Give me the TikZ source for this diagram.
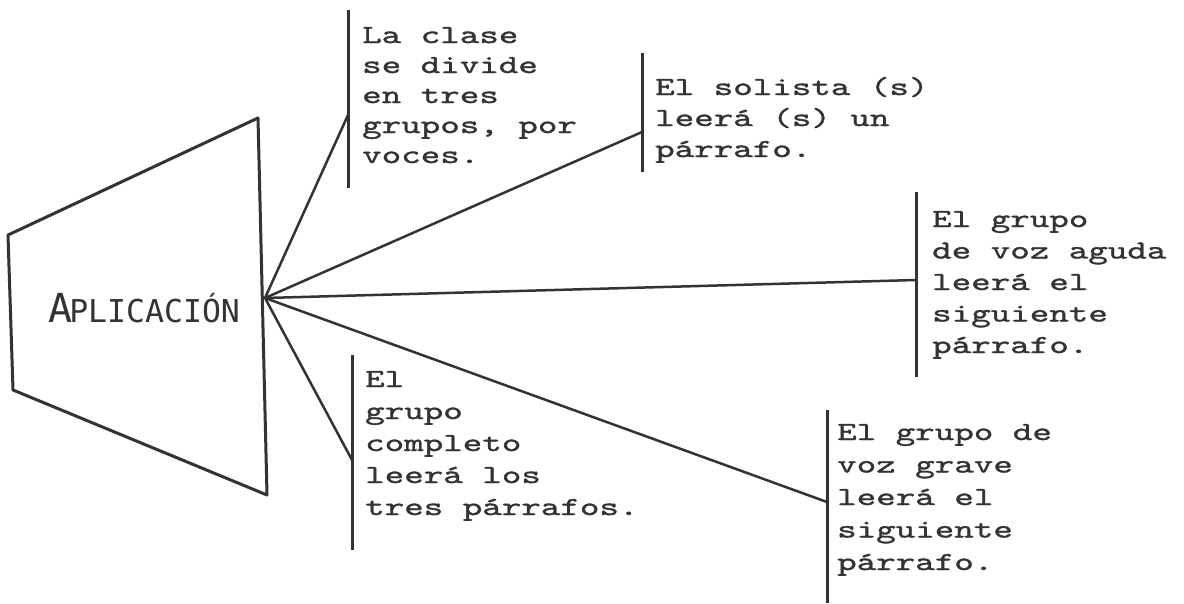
\documentclass[tikz,border=0pt]{standalone}
\usepackage{fontspec}
\newfontfamily\tw{lmmono10-regular.otf}[FakeStretch=1.43,FakeBold=1.2]
\newfontfamily\apl{DejaVu Sans Mono}
\definecolor{ink}{HTML}{333333}
\begin{document}
\begin{tikzpicture}[x=1pt,y=-1pt,
  thick line/.style={draw=ink,line width=3pt,line join=round},
  conn/.style={draw=ink,line width=2.5pt},
  bar/.style={draw=ink,line width=3pt},
  txt/.style={anchor=base west,inner sep=0pt,align=left,text=ink,
    font={\tw\fontsize{26}{#1}\selectfont}},
  txt/.default=31]
\useasboundingbox[fill=white] (0,0) rectangle (1184,603);
% trapezoid
\draw[thick line] (8,235) -- (258,118) -- (267,495) -- (13,390) -- cycle;
\node[anchor=base west,inner sep=0pt,text=ink] (apl) at (48,322)
  {\apl\fontsize{40}{40}\selectfont A\kern-3pt\fontsize{31.5}{31.5}\selectfont PLICACIÓN};
\coordinate (hub) at (265,298);
% bars
\coordinate (b1t) at (348,10);  \coordinate (b1b) at (348,188); \coordinate (j1) at (348,115);
\coordinate (b2t) at (642,53);  \coordinate (b2b) at (642,172); \coordinate (j2) at (642,132);
\coordinate (b3t) at (916,192); \coordinate (b3b) at (916,377); \coordinate (j3) at (916,280);
\coordinate (b4t) at (352,355); \coordinate (b4b) at (352,550); \coordinate (j4) at (352,460);
\coordinate (b5t) at (827,410); \coordinate (b5b) at (827,603); \coordinate (j5) at (827,502);
\foreach \i in {1,...,5} {\draw[bar] (b\i t) -- (b\i b);}
\foreach \i in {1,...,5} {\draw[conn] (hub) -- (j\i);}
% texts (anchored at the baseline of the last line)
\node[txt=30] (t1) at (362,163) {La clase\\se divide\\en tres\\grupos, por\\voces.};
\node[txt=31] (t2) at (655,157) {El solista (s)\\leerá (s) un\\párrafo.};
\node[txt=31.5] (t3) at (932,353) {El grupo\\de voz aguda\\leerá el\\siguiente\\párrafo.};
\node[txt=32] (t4) at (365,515) {El\\grupo\\completo\\leerá los\\tres párrafos.};
\node[txt=32.5] (t5) at (837,570) {El grupo de\\voz grave\\leerá el\\siguiente\\párrafo.};
\end{tikzpicture}
\end{document}
